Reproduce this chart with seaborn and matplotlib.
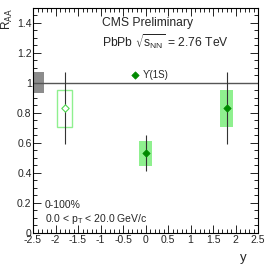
import matplotlib
matplotlib.use("Agg")
import matplotlib.pyplot as plt
import seaborn as sns
import pandas as pd
from matplotlib.ticker import MultipleLocator

# data
rapidity = [-1.8, 0.0, 1.8]
raa = [0.83, 0.53, 0.83]
stat_err = [0.24, 0.12, 0.24]
syst_err = [0.125, 0.085, 0.125]
box_halfwidth = [0.16, 0.15, 0.15]
filled = [False, True, True]
global_unc = 0.07
x_ticks = [-2.5, -2, -1.5, -1, -0.5, 0, 0.5, 1, 1.5, 2, 2.5]
y_ticks = [0, 0.2, 0.4, 0.6, 0.8, 1, 1.2, 1.4]

df = pd.DataFrame({"y": rapidity, "raa": raa, "stat": stat_err,
                   "syst": syst_err, "hw": box_halfwidth, "filled": filled})

sns.set_style("ticks")
plt.rcParams["font.family"] = ["Liberation Sans", "DejaVu Sans"]

fig = plt.figure(figsize=(2.76, 2.65), dpi=100)
ax = fig.add_axes([0.1196, 0.1208, 0.8154, 0.8492])

dark_green = "#008a00"
light_green = "#8ff08f"

# global uncertainty box and unity line
ax.bar([-2.5], [2 * global_unc], bottom=[1 - global_unc], width=0.24,
       align="edge", color="#8c8c8c", edgecolor="none", zorder=1)
ax.axhline(1.0, color="#555555", lw=1.0, zorder=2)

# systematic boxes
for _, r in df.iterrows():
    if r["filled"]:
        ax.bar([r["y"]], [2 * r["syst"]], bottom=[r["raa"] - r["syst"]],
               width=2 * r["hw"], color=light_green, edgecolor="none", zorder=2)
    else:
        ax.bar([r["y"]], [2 * r["syst"]], bottom=[r["raa"] - r["syst"]],
               width=2 * r["hw"], facecolor="none", edgecolor=light_green,
               lw=1.0, zorder=2)

# stat error bars
ax.errorbar(df["y"], df["raa"], yerr=df["stat"], fmt="none",
            ecolor="#333333", elinewidth=0.8, capsize=0, zorder=3)

# markers
dff = df[df["filled"]]
dfo = df[~df["filled"]]
sns.scatterplot(data=dff, x="y", y="raa", marker="D", s=14, color=dark_green,
                edgecolor=dark_green, linewidth=0.5, ax=ax, zorder=4,
                label="ϒ(1S)")
sns.scatterplot(data=dfo, x="y", y="raa", marker="D", s=14, facecolor="white",
                edgecolor="#4fd84f", linewidth=0.8, ax=ax, zorder=4, legend=False)

leg = ax.legend(loc="center left", bbox_to_anchor=(0.436, 0.702), frameon=False,
                handlelength=0.8, handletextpad=0.4, borderaxespad=0, borderpad=0,
                prop={"family": ["Liberation Sans", "DejaVu Sans"], "size": 7})

ax.set_xlim(-2.5, 2.5)
ax.set_ylim(0, 1.5)
ax.set_xticks(x_ticks)
ax.set_xticklabels([f"{t:g}" for t in x_ticks])
ax.set_yticks(y_ticks)
ax.set_yticklabels([f"{t:g}" for t in y_ticks])
ax.xaxis.set_minor_locator(MultipleLocator(0.1))
ax.yaxis.set_minor_locator(MultipleLocator(0.05))
ax.tick_params(which="both", direction="in", top=True, right=True,
               labelsize=7.5, pad=1.5, color="black", width=0.6)
ax.tick_params(which="major", length=6)
ax.tick_params(which="minor", length=3)
ax.tick_params(axis="y", which="major", pad=1)
for s in ax.spines.values():
    s.set_linewidth(0.8)
    s.set_color("black")

ax.set_xlabel("y", fontsize=9.5)
ax.xaxis.set_label_coords(0.933, -0.085)
ax.set_ylabel(r"R$_{\rm AA}$", fontsize=8.5, ha="right", va="center")
ax.yaxis.set_label_coords(-0.115, 1.0)

ax.text(0.307, 0.933, "CMS Preliminary", transform=ax.transAxes,
        fontsize=8.7, va="center")
ax.text(0.307, 0.849, r"PbPb $\sqrt{\mathregular{s_{NN}}}$ = 2.76 TeV",
        transform=ax.transAxes, fontsize=8.7, va="center")
ax.text(0.053, 0.124, "0-100%", transform=ax.transAxes, fontsize=7.5,
        va="center")
ax.text(0.053, 0.064, r"0.0 < p$_{\mathregular{T}}$ < 20.0 GeV/c",
        transform=ax.transAxes, fontsize=7.5, va="center")

fig.savefig("out.png", dpi=100)
